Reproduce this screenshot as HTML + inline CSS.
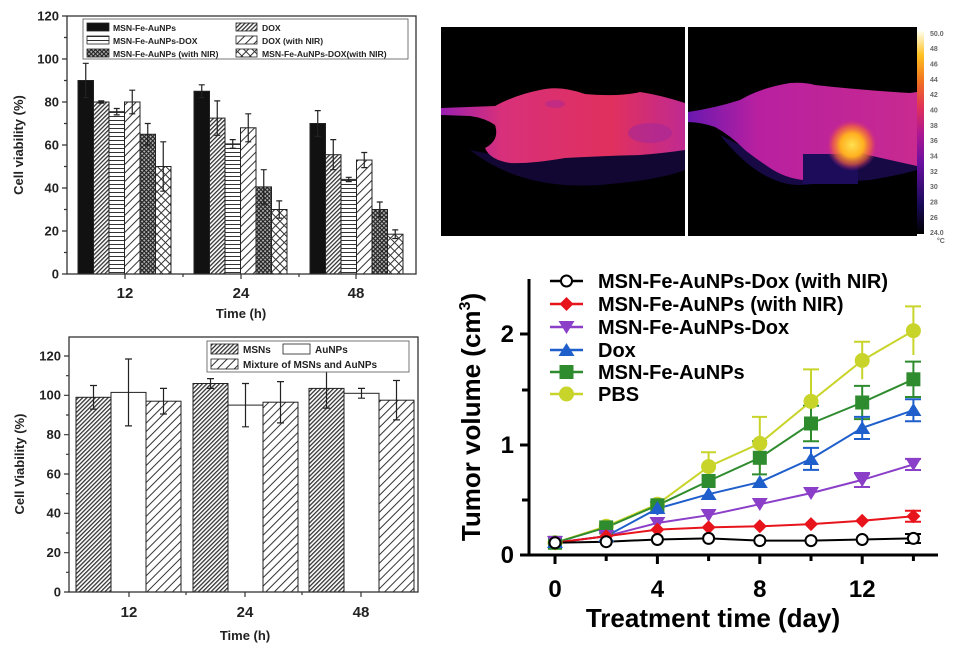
<!DOCTYPE html>
<html><head><meta charset="utf-8"><style>
html,body{margin:0;padding:0;background:#fff}
svg{display:block}
text{font-family:"Liberation Sans",Arial,sans-serif;font-weight:bold}
</style></head><body>
<svg width="972" height="654" viewBox="0 0 972 654" xmlns="http://www.w3.org/2000/svg">
<defs>
<pattern id="dd" width="3" height="3" patternUnits="userSpaceOnUse" patternTransform="rotate(45)"><rect width="3" height="3" fill="#fff"/><rect width="1.3" height="3" fill="#333"/></pattern>
<pattern id="sd" width="6" height="6" patternUnits="userSpaceOnUse" patternTransform="rotate(45)"><rect width="6" height="6" fill="#fff"/><rect width="1" height="6" fill="#333"/></pattern>
<pattern id="hz" width="4" height="4" patternUnits="userSpaceOnUse"><rect width="4" height="4" fill="#fff"/><rect width="4" height="1" fill="#333"/></pattern>
<pattern id="dx" width="3" height="3" patternUnits="userSpaceOnUse" patternTransform="rotate(45)"><rect width="3" height="3" fill="#bbb"/><rect width="1.2" height="3" fill="#222"/><rect width="3" height="1.2" fill="#222"/></pattern>
<pattern id="sx" width="6" height="6" patternUnits="userSpaceOnUse" patternTransform="rotate(45)"><rect width="6" height="6" fill="#fff"/><rect width="1" height="6" fill="#333"/><rect width="6" height="1" fill="#333"/></pattern>
<linearGradient id="cb" x1="0" y1="1" x2="0" y2="0">
<stop offset="0" stop-color="#000"/><stop offset="0.15" stop-color="#1a0a5a"/><stop offset="0.35" stop-color="#6a10a0"/><stop offset="0.5" stop-color="#b01890"/><stop offset="0.62" stop-color="#e0305a"/><stop offset="0.75" stop-color="#f07020"/><stop offset="0.88" stop-color="#ffc020"/><stop offset="1" stop-color="#fffff0"/></linearGradient>
<radialGradient id="hot"><stop offset="0" stop-color="#ffe050"/><stop offset="0.45" stop-color="#ffb020"/><stop offset="0.75" stop-color="#f06040" stop-opacity="0.7"/><stop offset="1" stop-color="#c02090" stop-opacity="0"/></radialGradient>
<linearGradient id="lm" x1="0" y1="0" x2="1" y2="0"><stop offset="0" stop-color="#9a20b0"/><stop offset="0.25" stop-color="#d8307a"/><stop offset="0.7" stop-color="#e0305e"/><stop offset="1" stop-color="#c02a90"/></linearGradient>
<linearGradient id="rm" x1="0" y1="0" x2="1" y2="0"><stop offset="0" stop-color="#6a18b0"/><stop offset="0.3" stop-color="#b820a0"/><stop offset="1" stop-color="#c82a90"/></linearGradient>
</defs>

<!-- ============ TOP LEFT CHART ============ -->
<g stroke="#222" stroke-width="1">
<rect x="78" y="80.5" width="15.5" height="193.5" fill="#111"/>
<rect x="93.5" y="102" width="15.5" height="172" fill="url(#dd)"/>
<rect x="109" y="111.7" width="15.5" height="162.3" fill="url(#hz)"/>
<rect x="124.5" y="102" width="15.5" height="172" fill="url(#sd)"/>
<rect x="140" y="134.25" width="15.5" height="139.75" fill="url(#dx)"/>
<rect x="155.5" y="166.5" width="15.5" height="107.5" fill="url(#sx)"/>
<rect x="194" y="91.25" width="15.5" height="182.75" fill="#111"/>
<rect x="209.5" y="118.1" width="15.5" height="155.9" fill="url(#dd)"/>
<rect x="225" y="143.9" width="15.5" height="130.1" fill="url(#hz)"/>
<rect x="240.5" y="127.8" width="15.5" height="146.2" fill="url(#sd)"/>
<rect x="256" y="186.9" width="15.5" height="87.1" fill="url(#dx)"/>
<rect x="271.5" y="209.5" width="15.5" height="64.5" fill="url(#sx)"/>
<rect x="310" y="123.5" width="15.5" height="150.5" fill="#111"/>
<rect x="325.5" y="154.7" width="15.5" height="119.3" fill="url(#dd)"/>
<rect x="341" y="179.4" width="15.5" height="94.6" fill="url(#hz)"/>
<rect x="356.5" y="160.05" width="15.5" height="113.95" fill="url(#sd)"/>
<rect x="372" y="209.5" width="15.5" height="64.5" fill="url(#dx)"/>
<rect x="387.5" y="234.2" width="15.5" height="39.8" fill="url(#sx)"/>
</g>
<path fill="none" stroke="#222" stroke-width="1.2" d="M85.75 63.3V97.7M82.75 63.3h6M82.75 97.7h6M101.25 100.9V103.1M98.25 100.9h6M98.25 103.1h6M116.75 108.5V114.9M113.75 108.5h6M113.75 114.9h6M132.25 90.2V113.8M129.25 90.2h6M129.25 113.8h6M147.75 123.5V145M144.75 123.5h6M144.75 145h6M163.25 141.8V191.2M160.25 141.8h6M160.25 191.2h6M201.75 84.8V97.7M198.75 84.8h6M198.75 97.7h6M217.25 100.9V135.3M214.25 100.9h6M214.25 135.3h6M232.75 139.6V148.2M229.75 139.6h6M229.75 148.2h6M248.25 113.8V141.8M245.25 113.8h6M245.25 141.8h6M263.75 169.7V204.1M260.75 169.7h6M260.75 204.1h6M279.25 200.9V218.1M276.25 200.9h6M276.25 218.1h6M317.75 110.6V136.4M314.75 110.6h6M314.75 136.4h6M333.25 139.6V169.7M330.25 139.6h6M330.25 169.7h6M348.75 177.3V181.6M345.75 177.3h6M345.75 181.6h6M364.25 152.5V167.6M361.25 152.5h6M361.25 167.6h6M379.75 202V217M376.75 202h6M376.75 217h6M395.25 229.9V238.5M392.25 229.9h6M392.25 238.5h6"/>
<rect x="67" y="16" width="349" height="258" fill="none" stroke="#333" stroke-width="1.3"/>
<path stroke="#333" stroke-width="1.2" d="M62 274h5M62 231h5M62 188h5M62 145h5M62 102h5M62 59h5M62 16h5M64 252.5h3M64 209.5h3M64 166.5h3M64 123.5h3M64 80.5h3M64 37.5h3M125 274v5M241 274v5M356 274v5M183 274v3M299 274v3"/>
<g font-size="13" text-anchor="end" fill="#222">
<text x="59" y="278.5">0</text><text x="59" y="235.5">20</text><text x="59" y="192.5">40</text><text x="59" y="149.5">60</text><text x="59" y="106.5">80</text><text x="59" y="63.5">100</text><text x="59" y="20.5">120</text>
</g>
<g font-size="15" text-anchor="middle" fill="#222"><text x="125" y="298">12</text><text x="241" y="298">24</text><text x="356" y="298">48</text></g>
<text x="241" y="318" font-size="13" text-anchor="middle" fill="#222">Time (h)</text>
<text transform="translate(23,145) rotate(-90)" font-size="13" text-anchor="middle" fill="#222">Cell viability (%)</text>
<rect x="83" y="19" width="325" height="40" fill="#fff" stroke="#555" stroke-width="0.8"/>
<g stroke="#222" stroke-width="0.8">
<rect x="87" y="23" width="22" height="8" fill="#111"/><rect x="87" y="36" width="22" height="8" fill="url(#hz)"/><rect x="87" y="49" width="22" height="8" fill="url(#dx)"/>
<rect x="236" y="23" width="21" height="8" fill="url(#dd)"/><rect x="236" y="36" width="21" height="8" fill="url(#sd)"/><rect x="236" y="49" width="21" height="8" fill="url(#sx)"/>
</g>
<g font-size="8.6" fill="#222">
<text x="113" y="31">MSN-Fe-AuNPs</text><text x="113" y="44">MSN-Fe-AuNPs-DOX</text><text x="113" y="57">MSN-Fe-AuNPs (with NIR)</text>
<text x="262" y="31">DOX</text><text x="262" y="44">DOX (with NIR)</text><text x="262" y="57">MSN-Fe-AuNPs-DOX(with NIR)</text>
</g>

<!-- ============ BOTTOM LEFT CHART ============ -->
<g stroke="#222" stroke-width="1">
<rect x="76" y="397.3" width="35" height="194.7" fill="url(#dd)"/>
<rect x="111" y="392.4" width="35" height="199.6" fill="#fff"/>
<rect x="146" y="401.2" width="35" height="190.8" fill="url(#sd)"/>
<rect x="193" y="383.5" width="35" height="208.5" fill="url(#dd)"/>
<rect x="228" y="405.1" width="35" height="186.9" fill="#fff"/>
<rect x="263" y="402.2" width="35" height="189.8" fill="url(#sd)"/>
<rect x="309" y="388.4" width="35" height="203.6" fill="url(#dd)"/>
<rect x="344" y="393.3" width="35" height="198.7" fill="#fff"/>
<rect x="379" y="400.2" width="35" height="191.8" fill="url(#sd)"/>
</g>
<path fill="none" stroke="#222" stroke-width="1.2" d="M93.5 385.5V409.1M90 385.5h7M90 409.1h7M128.5 359V425.9M125 359h7M125 425.9h7M163.5 388.4V414M160 388.4h7M160 414h7M210.5 378.6V388.4M207 378.6h7M207 388.4h7M245.5 383.5V426.8M242 383.5h7M242 426.8h7M280.5 381.6V422.9M277 381.6h7M277 422.9h7M326.5 368.7V408.1M323 368.7h7M323 408.1h7M361.5 388.4V398.2M358 388.4h7M358 398.2h7M396.5 380.5V419.9M393 380.5h7M393 419.9h7"/>
<rect x="69" y="337" width="349" height="255" fill="none" stroke="#333" stroke-width="1.3"/>
<path stroke="#333" stroke-width="1.2" d="M64 592h5M64 552.7h5M64 513.3h5M64 474h5M64 434.7h5M64 395.3h5M64 356h5M66 572.3h3M66 533h3M66 493.7h3M66 454.3h3M66 415h3M66 375.7h3M129 592v5M245 592v5M361 592v5M186 592v3M302 592v3"/>
<g font-size="13" text-anchor="end" fill="#222">
<text x="61" y="596.5">0</text><text x="61" y="557">20</text><text x="61" y="517.5">40</text><text x="61" y="478.5">60</text><text x="61" y="439">80</text><text x="61" y="399.5">100</text><text x="61" y="360.5">120</text>
</g>
<g font-size="15" text-anchor="middle" fill="#222"><text x="129" y="617">12</text><text x="245" y="617">24</text><text x="361" y="617">48</text></g>
<text x="245" y="640" font-size="13" text-anchor="middle" fill="#222">Time (h)</text>
<text transform="translate(24,464) rotate(-90)" font-size="13" text-anchor="middle" fill="#222">Cell Viability (%)</text>
<rect x="207" y="341" width="202" height="31" fill="#fff" stroke="#555" stroke-width="0.8"/>
<g stroke="#222" stroke-width="0.8">
<rect x="211" y="344" width="27" height="10" fill="url(#dd)"/><rect x="283" y="344" width="27" height="10" fill="#fff"/><rect x="211" y="359" width="27" height="10" fill="url(#sd)"/>
</g>
<g font-size="10" fill="#222"><text x="243" y="353">MSNs</text><text x="315" y="353">AuNPs</text><text x="243" y="368">Mixture of MSNs and AuNPs</text></g>

<!-- ============ THERMAL IMAGES ============ -->
<rect x="441" y="27" width="244" height="209" fill="#000"/>
<rect x="688" y="27" width="229" height="209" fill="#000"/>
<path d="M470 150 Q520 190 600 185 Q660 180 685 170 L685 150 Q600 152 520 160 Z" fill="#140838" opacity="0.9"/>
<path d="M441 108 L495 106 Q515 95 540 90 Q560 85 585 94 Q620 97 640 92 Q660 95 685 103 L685 150 Q665 153 640 155 Q600 156 565 158 Q530 164 510 163 Q490 160 485 148 Q500 140 495 125 Q485 118 470 116 L441 115 Z" fill="url(#lm)"/>
<ellipse cx="555" cy="104" rx="10" ry="4" fill="#b02890" opacity="0.6"/>
<ellipse cx="650" cy="133" rx="22" ry="10" fill="#a0289a" opacity="0.55"/>
<path d="M720 135 Q760 185 800 185 L870 180 Q900 175 917 170 L917 160 Q860 150 800 155 Q760 150 740 145 Z" fill="#180a48" opacity="0.95"/>
<path d="M688 112 Q715 108 740 100 Q760 88 790 83 Q805 82 815 85 Q860 90 910 93 L917 92 L917 166 Q890 160 868 155 Q855 150 840 154 L803 154 L803 180 Q785 178 770 168 Q755 158 745 150 Q730 135 715 127 Q700 122 688 122 Z" fill="url(#rm)"/>
<rect x="803" y="154" width="55" height="30" fill="#1c0c5a"/>
<circle cx="852" cy="145" r="26" fill="url(#hot)"/>
<rect x="685" y="27" width="3" height="209" fill="#fff"/>
<rect x="917" y="31" width="7" height="203" fill="url(#cb)"/>
<g font-size="7" fill="#666" style="font-weight:normal">
<text x="930" y="36">50.0</text><text x="930" y="51">48</text><text x="930" y="66.5">46</text><text x="930" y="82">44</text><text x="930" y="97">42</text><text x="930" y="112.5">40</text><text x="930" y="128">38</text><text x="930" y="143">36</text><text x="930" y="158.5">34</text><text x="930" y="174">32</text><text x="930" y="189">30</text><text x="930" y="204.5">28</text><text x="930" y="220">26</text><text x="930" y="235">24.0</text><text x="937" y="243">°C</text>
</g>

<!-- ============ TUMOR VOLUME CHART ============ -->
<path stroke="#000" stroke-width="3" fill="none" d="M529 279V556.5M520 555H938"/>
<path stroke="#000" stroke-width="3" d="M520 445h9M520 334h9M522 500h7M522 390h7M555 555v9M657.4 555v9M759.8 555v9M862.2 555v9M606.2 555v6M708.6 555v6M811 555v6M913.4 555v6"/>
<g font-size="24" text-anchor="end" fill="#000"><text x="514" y="563">0</text><text x="514" y="453">1</text><text x="514" y="342">2</text></g>
<g font-size="24" text-anchor="middle" fill="#000"><text x="555" y="597">0</text><text x="657.4" y="597">4</text><text x="759.8" y="597">8</text><text x="862.2" y="597">12</text></g>
<text x="713" y="627" font-size="26" text-anchor="middle" fill="#000">Treatment time (day)</text>
<text transform="translate(480,417) rotate(-90)" font-size="26" text-anchor="middle" fill="#000">Tumor volume (cm<tspan font-size="16" dy="-10">3</tspan><tspan dy="10">)</tspan></text>

<g fill="none" stroke-width="2">
<path stroke="#c8d42a" d="M708.6 452.2V481M701 452.2h15M759.8 416.9V469.9M752 416.9h15M811 369.4V433.4M803 369.4h16M862.2 341.7V379.3M854 341.7h16M913.4 306.4V355M905 306.4h16"/>
<path stroke="#2e8b2e" d="M759.8 441.2V474.4M752 441.2h15M752 474.4h15M811 405.8V441.2M803 405.8h16M803 441.2h16M862.2 385.9V419.1M854 385.9h16M854 419.1h16M913.4 361.6V397M905 361.6h16M905 397h16"/>
<path stroke="#1f5fcc" d="M657.4 502V515M650 502h15M811 447.9V469.9M803 447.9h16M803 469.9h16M862.2 416.9V439M854 416.9h16M854 439h16M913.4 399.2V421.3M905 399.2h16M905 421.3h16"/>
<path stroke="#8b3fc8" d="M862.2 473V487M854 473h16M854 487h16M913.4 458.9V470M905 458.9h16M905 470h16"/>
<path stroke="#e8141c" d="M913.4 510.8V521.8M905 510.8h16M905 521.8h16"/>
<path stroke="#000" d="M913.4 534V543M905 534h16M905 543h16"/>
</g>
<g fill="none" stroke-width="2">
<polyline stroke="#c8d42a" points="555,542.8 606.2,526.3 657.4,504.2 708.6,466.6 759.8,443.4 811,401.4 862.2,360.5 913.4,330.7"/>
<polyline stroke="#2e8b2e" points="555,542.8 606.2,527.4 657.4,505.3 708.6,481 759.8,457.8 811,423.5 862.2,402.5 913.4,379.3"/>
<polyline stroke="#1f5fcc" points="555,542.8 606.2,536.2 657.4,508.6 708.6,494.2 759.8,482.1 811,458.9 862.2,427.9 913.4,410.2"/>
<polyline stroke="#8b3fc8" points="555,542.8 606.2,536.2 657.4,523 708.6,515.2 759.8,504.2 811,493.1 862.2,479.9 913.4,464.4"/>
<polyline stroke="#e8141c" points="555,542.8 606.2,536.2 657.4,529.6 708.6,527.4 759.8,526.3 811,524.1 862.2,520.7 913.4,516.3"/>
<polyline stroke="#000" points="555,542.8 606.2,541.7 657.4,539.5 708.6,538.4 759.8,540.6 811,540.6 862.2,539.5 913.4,538.4"/>
</g>
<g fill="#c8d42a"><circle cx="555" cy="542.8" r="7.5"/><circle cx="606.2" cy="526.3" r="7.5"/><circle cx="657.4" cy="504.2" r="7.5"/><circle cx="708.6" cy="466.6" r="7.5"/><circle cx="759.8" cy="443.4" r="7.5"/><circle cx="811" cy="401.4" r="7.5"/><circle cx="862.2" cy="360.5" r="7.5"/><circle cx="913.4" cy="330.7" r="7.5"/></g>
<g fill="#2e8b2e"><rect x="548" y="535.8" width="14" height="14"/><rect x="599.2" y="520.4" width="14" height="14"/><rect x="650.4" y="498.3" width="14" height="14"/><rect x="701.6" y="474" width="14" height="14"/><rect x="752.8" y="450.8" width="14" height="14"/><rect x="804" y="416.5" width="14" height="14"/><rect x="855.2" y="395.5" width="14" height="14"/><rect x="906.4" y="372.3" width="14" height="14"/></g>
<g fill="#1f5fcc"><path d="M555 535l8 13h-16z M606.2 529l8 13h-16z M657.4 501l8 13h-16z M708.6 487l8 13h-16z M759.8 475l8 13h-16z M811 452l8 13h-16z M862.2 421l8 13h-16z M913.4 403l8 13h-16z"/></g>
<g fill="#8b3fc8"><path d="M555 549l8 -13h-16z M606.2 543l8 -13h-16z M657.4 530l8 -13h-16z M708.6 522l8 -13h-16z M759.8 511l8 -13h-16z M811 500l8 -13h-16z M862.2 487l8 -13h-16z M913.4 471l8 -13h-16z"/></g>
<g fill="#e8141c"><path d="M555 535.8l7 7-7 7-7-7z M606.2 529.2l7 7-7 7-7-7z M657.4 522.6l7 7-7 7-7-7z M708.6 520.4l7 7-7 7-7-7z M759.8 519.3l7 7-7 7-7-7z M811 517.1l7 7-7 7-7-7z M862.2 513.7l7 7-7 7-7-7z M913.4 509.3l7 7-7 7-7-7z"/></g>
<g fill="#fff" stroke="#000" stroke-width="2"><circle cx="555" cy="542.8" r="5.5"/><circle cx="606.2" cy="541.7" r="5.5"/><circle cx="657.4" cy="539.5" r="5.5"/><circle cx="708.6" cy="538.4" r="5.5"/><circle cx="759.8" cy="540.6" r="5.5"/><circle cx="811" cy="540.6" r="5.5"/><circle cx="862.2" cy="539.5" r="5.5"/><circle cx="913.4" cy="538.4" r="5.5"/></g>

<g stroke-width="2.5" fill="none">
<path stroke="#000" d="M550 281h33"/><path stroke="#e8141c" d="M550 304h33"/><path stroke="#8b3fc8" d="M550 327h33"/><path stroke="#1f5fcc" d="M550 350h33"/><path stroke="#2e8b2e" d="M550 372h33"/><path stroke="#c8d42a" d="M550 394h33"/>
</g>
<circle cx="566.5" cy="281" r="5.5" fill="#fff" stroke="#000" stroke-width="2"/>
<path d="M566.5 297l7 7-7 7-7-7z" fill="#e8141c"/>
<path d="M566.5 334l8 -13h-16z" fill="#8b3fc8"/>
<path d="M566.5 343l8 13h-16z" fill="#1f5fcc"/>
<rect x="559.5" y="365" width="14" height="14" fill="#2e8b2e"/>
<circle cx="566.5" cy="394" r="7.5" fill="#c8d42a"/>
<g font-size="20" fill="#000">
<text x="598" y="288">MSN-Fe-AuNPs-Dox (with NIR)</text>
<text x="598" y="311">MSN-Fe-AuNPs (with NIR)</text>
<text x="598" y="334">MSN-Fe-AuNPs-Dox</text>
<text x="598" y="357">Dox</text>
<text x="598" y="379">MSN-Fe-AuNPs</text>
<text x="598" y="401">PBS</text>
</g>
</svg>
</body></html>
